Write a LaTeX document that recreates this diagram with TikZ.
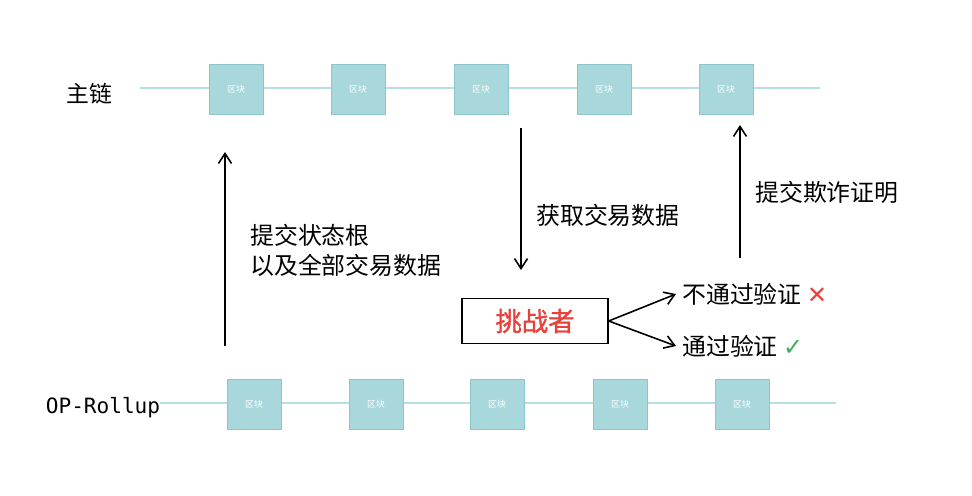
\documentclass[tikz,border=0pt]{standalone}
\usepackage{fontspec}
\setmainfont{Noto Sans CJK SC}
\newfontfamily\oplatin{DejaVu Sans Mono}
\newfontfamily\challfont[FakeBold=1.2]{Noto Sans CJK SC}
\usepackage{tikz}
\usetikzlibrary{positioning, arrows.meta, calc}
\definecolor{blockfill}{HTML}{A8D8DC}
\definecolor{blockline}{HTML}{8CC6CB}
\definecolor{chainline}{HTML}{B5DFE2}
\definecolor{failred}{HTML}{E8403A}
\definecolor{okgreen}{HTML}{3FAE5A}
\tikzset{
  blockbox/.style  = {draw=blockline, fill=blockfill, minimum width=1.08cm, minimum height=1.0cm, inner sep=0pt, font=\fontsize{5}{5}\selectfont, text=white},
  chain/.style     = {draw=chainline, line width=1pt},
  labeltext/.style = {font=\fontsize{13.6}{17}\selectfont, align=left},
  challbox/.style  = {draw, line width=0.8pt, minimum width=2.92cm, minimum height=0.9cm, font=\fontsize{15}{17}\selectfont\challfont, text=failred},
  flow/.style      = {-{Straight Barb[length=2mm, width=2.6mm]}, line width=0.9pt}
}
\begin{document}
\begin{tikzpicture}[x=0.02cm, y=-0.02cm]
    \useasboundingbox (0,0) rectangle (972,495);

    % --- Chains ---------------------------------------------------------------
    \draw[chain] (140,88) -- (820,88);
    \draw[chain] (160,403) -- (836,403);
    \foreach \i/\x in {1/236, 2/358, 3/481, 4/604, 5/726}
      \node[blockbox] (main\i) at (\x,89) {区块};
    \foreach \i/\x in {1/254, 2/376, 3/497, 4/620, 5/742}
      \node[blockbox] (op\i) at (\x,404) {区块};

    \node[labeltext, font=\fontsize{13}{15}\selectfont] (mainlbl) at (89,94) {主链};
    \node[labeltext, font=\fontsize{12}{15}\selectfont\oplatin] (oplbl) at (103,408) {OP-Rollup};

    % --- Submission -----------------------------------------------------------
    \coordinate (subA) at (225,346);
    \coordinate (subB) at (225,152);
    \draw[flow] (subA) -- (subB);
    \node[labeltext, anchor=west] (sublbl) at (244,250)
      {提交状态根\\以及全部交易数据};

    % --- Challenger -----------------------------------------------------------
    \node[challbox] (chall) at (535,321) {挑战者};
    \coordinate (getA) at (521,128);
    \coordinate (getB) at (521,270);
    \draw[flow] (getA) -- (getB);
    \node[labeltext, anchor=west] (getlbl) at (530,215) {获取交易数据};

    \node[labeltext, anchor=west] (fail) at (676,294)
      {不通过验证 {\color{failred}\fontspec{DejaVu Sans}✕}};
    \node[labeltext, anchor=west] (pass) at (676,346)
      {通过验证 {\color{okgreen}\fontspec{DejaVu Sans}✓}};
    \draw[flow] (chall.east) -- (fail.west);
    \draw[flow] (chall.east) -- (pass.west);

    % --- Fraud proof ----------------------------------------------------------
    \coordinate (proofA) at (740,258);
    \coordinate (proofB) at (740,125);
    \draw[flow] (proofA) -- (proofB);
    \node[labeltext, anchor=west] (prooflbl) at (749,192) {提交欺诈证明};

\end{tikzpicture}
\end{document}
